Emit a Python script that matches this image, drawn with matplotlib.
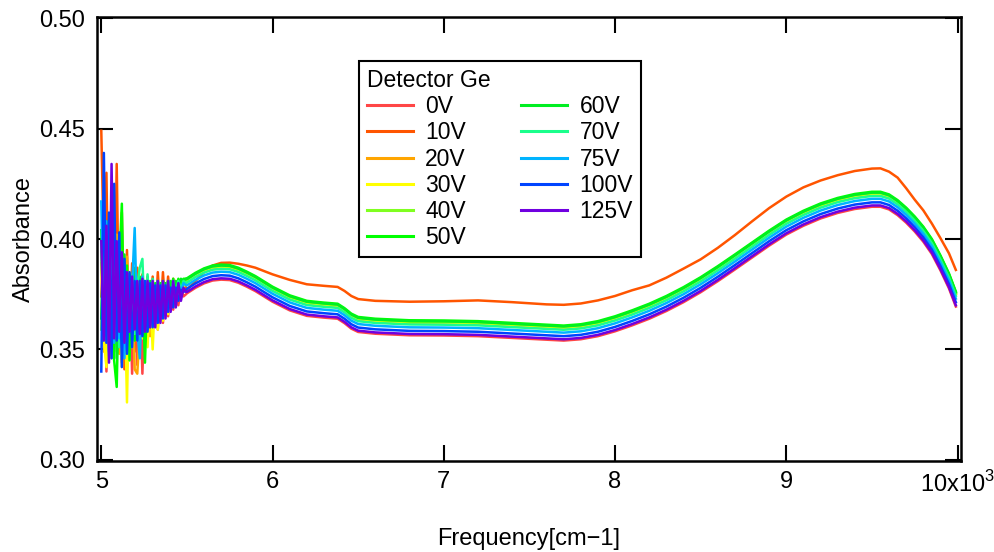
import numpy as np
import matplotlib.pyplot as plt

plt.rcParams['font.family'] = ['Liberation Sans', 'DejaVu Sans']
plt.rcParams['mathtext.fontset'] = 'custom'
plt.rcParams['mathtext.rm'] = 'Liberation Sans'

voltages = ['0V', '10V', '20V', '30V', '40V', '50V',
            '60V', '70V', '75V', '100V', '125V']
colors = ['#FF4646', '#FF5500', '#FFA500', '#FFFF00', '#80FF20', '#00FF00',
          '#00EE22', '#1AFF8C', '#00B4FF', '#0044FF', '#7000E0']

# noisy low-frequency part (cm-1)
freq_noise = [5000, 5015, 5030, 5045, 5060, 5075, 5090, 5105, 5120, 5135,
              5150, 5165, 5180, 5195, 5210, 5225, 5240, 5255, 5270, 5285,
              5300, 5315, 5330, 5345, 5360, 5375, 5390, 5405, 5420, 5435,
              5450, 5465, 5480, 5495]
noise_mean = [0.379, 0.379, 0.378, 0.377, 0.376, 0.375, 0.374, 0.373, 0.372, 0.371,
              0.370, 0.370, 0.369, 0.369, 0.369, 0.369, 0.369, 0.369, 0.369, 0.370,
              0.370, 0.370, 0.371, 0.371, 0.372, 0.372, 0.373, 0.373, 0.374, 0.374,
              0.375, 0.375, 0.376, 0.376]

# deviation from noise_mean, in 1e-3 absorbance
dev_0V = [-5, 20, -38, 15, -25, 30, -20, 10, -28, 18, -22, 12, -30, 8,
          -26, 10, -30, 6, -14, 10, -12, 8, -12, 8, -10, 6, -8, 5, -6, 4, -5, 3, -2, -1]
dev_10V = [70, 15, 52, -28, 45, -22, 60, -18, 40, -30, 25, -15, 20, -20,
           18, -12, 15, -10, 14, -9, 13, -8, 14, -6, 13, -5, 10, -3, 8, 0, 6, 1, 4, 2]
dev_20V = [10, -30, 25, -20, 35, -15, 28, -25, 32, -20, 22, -12, 15, -28,
           -30, -10, 12, -10, 11, -14, 10, -9, 9, -8, 8, -6, 7, -4, 6, -2, 5, 0, 4, 4]
dev_30V = [15, -25, -36, 20, -22, 25, -15, 18, -30, 10, -44, 15, -18, 12,
           -15, 8, -14, 6, -18, 7, -20, 6, -12, 7, -9, 6, -7, 6, -4, 5, -2, 5, 2, 5]
dev_40V = [-20, 30, -15, 25, -30, 20, -25, 22, -18, 15, -20, 12, -15, 10,
           -12, 11, -12, 10, -10, 9, -9, 9, -8, 8, -6, 8, -4, 7, -2, 7, 0, 6, 4, 6]
dev_50V = [25, -20, 30, -25, 20, -30, -41, 15, 44, -20, 18, -25, 14, -15,
           12, -12, 12, -25, 11, -10, 11, -8, 10, -6, 9, -4, 8, -2, 8, 0, 7, 3, 6, 6]
dev_60V = [-15, 28, -22, 30, -18, 25, -28, 20, -15, 22, -18, 14, -12, 18,
           -12, 14, -10, 12, -9, 11, -8, 10, -6, 9, -4, 8, -2, 8, 0, 7, 2, 7, 5, 6]
dev_70V = [20, -25, 18, -30, 25, -15, 20, -22, 15, -18, 12, -10, 14, -12,
           10, 18, 22, -10, 15, -8, 12, -8, 10, -6, 9, -5, 8, -3, 7, 0, 6, 2, 5, 4]
dev_75V = [38, -20, 30, -28, 35, -22, 25, -18, 20, -25, 15, -12, 10, 36,
           -10, -23, 14, -10, 12, -9, 11, -8, 10, -7, 8, -6, 7, -4, 6, -2, 5, 1, 4, 3]
dev_100V = [-39, 60, -25, 35, -30, 50, -20, 30, -30, 20, -22, 15, -18, 12,
            -15, 12, -13, 12, -11, 10, -10, 9, -9, 8, -8, 7, -6, 5, -5, 4, -3, 2, 0, 1]
dev_125V = [20, -25, 28, -33, 58, -20, 25, -15, 22, -18, 15, -12, 14, -10,
            12, -12, 13, -11, 12, -10, 11, -10, 10, -9, 9, -8, 8, -6, 7, -5, 5, -3, 2, 0]
devs = [dev_0V, dev_10V, dev_20V, dev_30V, dev_40V, dev_50V,
        dev_60V, dev_70V, dev_75V, dev_100V, dev_125V]

# smooth part
freq = [5500, 5550, 5600, 5650, 5700, 5750, 5800, 5850, 5900, 6000,
        6100, 6200, 6300, 6380, 6420, 6460, 6500, 6600, 6800, 7000,
        7200, 7400, 7600, 7700, 7800, 7900, 8000, 8100, 8200, 8300,
        8400, 8500, 8600, 8700, 8800, 8900, 9000, 9100, 9200, 9300,
        9400, 9500, 9550, 9600, 9650, 9700, 9750, 9800, 9850, 9900,
        9950, 9990]
abs_125V = [0.3760, 0.3785, 0.3805, 0.3818, 0.3822, 0.3820, 0.3808, 0.3790, 0.3770, 0.3722,
            0.3683, 0.3658, 0.3650, 0.3645, 0.3625, 0.3600, 0.3585, 0.3577, 0.3570, 0.3569,
            0.3566, 0.3558, 0.3550, 0.3546, 0.3552, 0.3566, 0.3588, 0.3615, 0.3645, 0.3680,
            0.3720, 0.3765, 0.3815, 0.3868, 0.3922, 0.3976, 0.4026, 0.4066, 0.4099, 0.4124,
            0.4142, 0.4152, 0.4152, 0.4140, 0.4114, 0.4080, 0.4040, 0.3994, 0.3938, 0.3864,
            0.3782, 0.3700]
abs_10V = [0.3770, 0.3810, 0.3850, 0.3880, 0.3892, 0.3893, 0.3888, 0.3880, 0.3870, 0.3840,
           0.3815, 0.3795, 0.3788, 0.3783, 0.3765, 0.3742, 0.3728, 0.3720, 0.3716, 0.3718,
           0.3722, 0.3714, 0.3704, 0.3702, 0.3708, 0.3722, 0.3742, 0.3768, 0.3790, 0.3825,
           0.3866, 0.3908, 0.3960, 0.4018, 0.4080, 0.4140, 0.4192, 0.4234, 0.4265, 0.4289,
           0.4308, 0.4319, 0.4320, 0.4305, 0.4278, 0.4230, 0.4178, 0.4130, 0.4070, 0.4004,
           0.3935, 0.3860]
# offset of each voltage from the 125V curve (10V has its own curve)
band_offset = [-0.0006, 0.0, 0.0050, 0.0053, 0.0057, 0.0062,
               0.0058, 0.0043, 0.0030, 0.0014, 0.0]

xtick_vals = [5000, 6000, 7000, 8000, 9000, 10000]
xtick_labels = ['5', '6', '7', '8', '9', '10x10$^{3}$']
ytick_vals = [0.30, 0.35, 0.40, 0.45, 0.50]

fig = plt.figure(figsize=(9.95, 5.52), dpi=100)
ax = fig.add_axes([0.0975, 0.165, 0.8683, 0.804])

for v, c, dev, off in zip(voltages, colors, devs, band_offset):
    y_noise = [m + d / 1000 for m, d in zip(noise_mean, dev)]
    if v == '10V':
        y_smooth = list(abs_10V)
    else:
        y_smooth = [b + off for b in abs_125V]
    ax.plot(freq_noise + freq, y_noise + y_smooth, color=c, lw=1.8, label=v)

ax.set_xlim(4975, 10020)
ax.set_ylim(0.2995, 0.5005)
ax.set_xticks(xtick_vals)
ax.set_xticklabels(xtick_labels)
ax.set_yticks(ytick_vals)
ax.set_yticklabels([f'{t:.2f}' for t in ytick_vals])
ax.tick_params(direction='in', length=11.5, width=1.5, top=True, right=True,
               labelsize=17, colors='black')
ax.tick_params(axis='x', pad=7)
ax.tick_params(axis='y', pad=9)
for s in ax.spines.values():
    s.set_linewidth(1.8)

ax.set_xlabel('Frequency[cm\u22121]', fontsize=17, labelpad=23)
ax.set_ylabel('Absorbance', fontsize=17, labelpad=3)

leg = ax.legend(ncol=2, title='Detector Ge', loc='upper left',
                bbox_to_anchor=(0.303, 0.901), borderaxespad=0,
                fontsize=16.5, title_fontsize=16.5, alignment='left',
                handlelength=2.0, handletextpad=0.55, columnspacing=2.4,
                labelspacing=0.14, borderpad=0.35, fancybox=False,
                framealpha=1, edgecolor='black')
leg.get_frame().set_linewidth(1.5)
for line in leg.get_lines():
    line.set_linewidth(2.2)

plt.savefig('out.png', dpi=100)
